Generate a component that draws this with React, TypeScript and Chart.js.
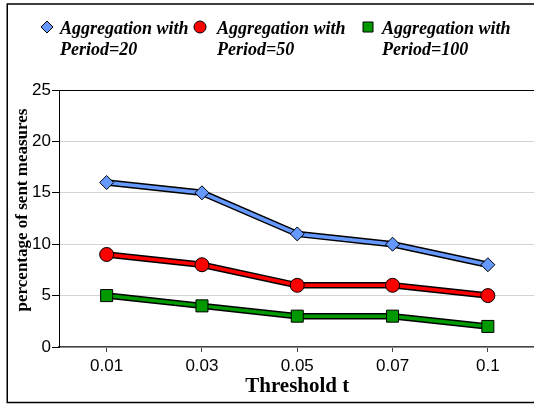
import React, { useEffect, useRef } from 'react';
import { Chart, registerables } from 'chart.js';

Chart.register(...registerables);

const categories = ['0.01', '0.03', '0.05', '0.07', '0.1'];
const period20 = [16, 15, 11, 10, 8];
const period50 = [9, 8, 6, 6, 5];
const period100 = [5, 4, 3, 3, 2];
const seriesNames = ['Aggregation with Period=20', 'Aggregation with Period=50', 'Aggregation with Period=100'];
const seriesColors = ['#6699FF', '#FF0000', '#009900'];
const seriesMarkers = ['rectRot', 'circle', 'rect'];
const yTicks = [0, 5, 10, 15, 20, 25];
const xTitle = 'Threshold t';
const yTitle = 'percentage of sent measures';

const W = 545;
const H = 405;

function drawMarker(ctx: CanvasRenderingContext2D, type: string, x: number, y: number, color: string) {
  ctx.save();
  ctx.fillStyle = color;
  ctx.strokeStyle = '#000';
  ctx.lineWidth = 1;
  ctx.beginPath();
  if (type === 'rectRot') {
    const r = 6;
    ctx.moveTo(x, y - r);
    ctx.lineTo(x + r, y);
    ctx.lineTo(x, y + r);
    ctx.lineTo(x - r, y);
    ctx.closePath();
  } else if (type === 'circle') {
    ctx.arc(x, y, 6, 0, Math.PI * 2);
  } else {
    ctx.rect(x - 5, y - 5, 10, 10);
  }
  ctx.fill();
  ctx.stroke();
  ctx.restore();
}

const framePlugin = {
  id: 'frameAndLegend',
  beforeDraw(chart: any) {
    const ctx = chart.ctx as CanvasRenderingContext2D;
    ctx.save();
    ctx.fillStyle = '#fff';
    ctx.fillRect(0, 0, chart.width, chart.height);
    ctx.strokeStyle = '#000';
    ctx.lineWidth = 1.5;
    ctx.strokeRect(7.25, 4, 700, 398.5);
    ctx.restore();
  },
  afterDraw(chart: any) {
    const ctx = chart.ctx as CanvasRenderingContext2D;
    const markerX = [47, 200, 368];
    const textX = [60, 217, 382];
    ctx.save();
    ctx.font = 'italic bold 18px "Liberation Serif", "Times New Roman", serif';
    ctx.fillStyle = '#000';
    ctx.textBaseline = 'alphabetic';
    ctx.textAlign = 'left';
    seriesNames.forEach((name, i) => {
      drawMarker(ctx, seriesMarkers[i], markerX[i], 27, seriesColors[i]);
      const lines = name.replace(' Period', '\nPeriod').split('\n');
      lines.forEach((ln, j) => ctx.fillText(ln, textX[i], 34 + j * 20.5));
    });
    ctx.restore();
  },
};

export default function App() {
  const ref = useRef<HTMLCanvasElement>(null);
  useEffect(() => {
    if (!ref.current) return;
    const series = [period20, period50, period100];
    const colored = series.map((data, i) => ({
      label: seriesNames[i],
      data,
      borderColor: seriesColors[i],
      backgroundColor: seriesColors[i],
      borderWidth: 3.5,
      pointStyle: seriesMarkers[i],
      pointRadius: seriesMarkers[i] === 'rect' ? 8.5 : 7,
      pointBorderColor: '#000',
      pointBorderWidth: 1,
      pointBackgroundColor: seriesColors[i],
      tension: 0,
    }));
    const outlines = series.map((data, i) => ({
      label: seriesNames[i] + ' outline',
      data,
      borderColor: '#000',
      borderWidth: 6.5,
      pointRadius: 0,
      tension: 0,
    }));
    const chart = new Chart(ref.current, {
      type: 'line',
      data: { labels: categories, datasets: [...colored, ...outlines] as any },
      plugins: [framePlugin],
      options: {
        animation: false,
        responsive: false,
        devicePixelRatio: 1,
        layout: { padding: { left: 9, top: 90, right: 4, bottom: 6 } },
        plugins: { legend: { display: false }, tooltip: { enabled: false } },
        scales: {
          x: {
            offset: true,
            afterFit(s: any) { s.height = 52; },
            grid: { drawOnChartArea: false, offset: false, tickLength: 5, tickColor: '#444', lineWidth: 1 },
            border: { color: '#444', width: 1.5 },
            ticks: { color: '#000', font: { family: '"Liberation Sans", Arial, sans-serif', size: 17 }, padding: 4, maxRotation: 0 },
            title: { display: true, text: xTitle, color: '#000', font: { family: '"Liberation Serif", "Times New Roman", serif', size: 21, weight: 'bold' }, padding: { top: 0, bottom: 0 } },
          },
          y: {
            min: 0,
            max: 25,
            afterFit(s: any) { s.width = 50; },
            afterBuildTicks(s: any) { s.ticks = yTicks.map((v) => ({ value: v })); },
            grid: {
              color: (c: any) => (c.tick && c.tick.value === 25 ? '#000' : '#d4d4d4'),
              tickColor: '#000',
              tickLength: 7,
              lineWidth: 1,
            },
            border: { color: '#000', width: 1 },
            ticks: { color: '#000', font: { family: '"Liberation Sans", Arial, sans-serif', size: 17 }, padding: 1 },
            title: { display: true, text: '\u00A0\u00A0\u00A0\u00A0' + yTitle, color: '#000', font: { family: '"Liberation Serif", "Times New Roman", serif', size: 17, weight: 'bold' }, padding: { top: 3, bottom: 0 } },
          },
        },
      } as any,
    });
    return () => chart.destroy();
  }, []);
  return (
    <div style={{ position: 'fixed', left: 0, top: 0, width: 534, height: 405, overflow: 'hidden', background: '#fff' }}>
      <canvas ref={ref} width={W} height={H} style={{ width: W, height: H, display: 'block' }} />
    </div>
  );
}
